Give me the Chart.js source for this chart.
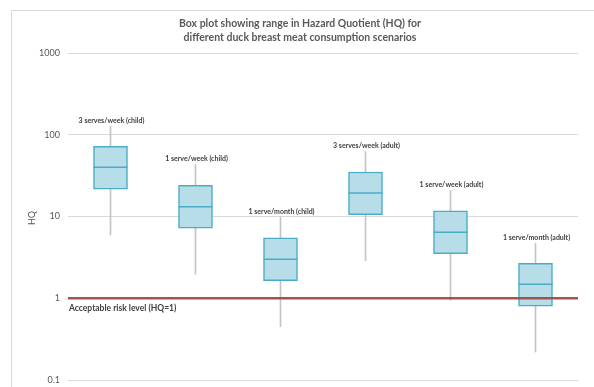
<!DOCTYPE html>
<html>
<head>
<meta charset="utf-8">
<script src="https://cdn.jsdelivr.net/npm/chart.js@4.4.0/dist/chart.umd.min.js"></script>
<style>
  html, body { margin: 0; padding: 0; background: #ffffff; }
  canvas { display: block; }
</style>
</head>
<body>
<canvas id="chart" width="594" height="387"></canvas>
<script>
// Consumption scenarios and the Hazard Quotient spread for each
const categories = [
  '3 serves/week (child)',
  '1 serve/week (child)',
  '1 serve/month (child)',
  '3 serves/week (adult)',
  '1 serve/week (adult)',
  '1 serve/month (adult)'
];
const whiskerMin = [5.95, 1.97, 0.45, 2.88, 0.95, 0.22];
const q1         = [21.6, 7.2, 1.64, 10.5, 3.5, 0.8];
const median     = [40, 13.2, 3.0, 19.4, 6.4, 1.48];
const q3         = [72, 24, 5.5, 35, 11.7, 2.68];
const whiskerMax = [128, 43, 9.8, 62, 20.8, 4.7];

const yTicks      = [0.1, 1, 10, 100, 1000];
const yTickLabels = ['0.1', '1', '10', '100', '1000'];

const riskLevel = 1;
const riskLabel = 'Acceptable risk level (HQ=1)';
const titleLines = [
  'Box plot showing range in Hazard Quotient (HQ) for',
  'different duck breast meat consumption scenarios'
];
const yTitle = 'HQ';

const FONT = 'Lato, "Open Sans", sans-serif';

const overlay = {
  id: 'boxOverlay',
  beforeDraw(chart) {
    const c = chart.ctx;
    c.save();
    c.strokeStyle = '#d9d9d9';
    c.lineWidth = 1;
    c.beginPath();
    c.moveTo(11.5, chart.height);
    c.lineTo(11.5, 10.5);
    c.lineTo(chart.width, 10.5);
    c.stroke();
    c.restore();
  },
  afterDatasetsDraw(chart) {
    const c = chart.ctx;
    const x = chart.scales.x, y = chart.scales.y;
    const area = chart.chartArea;
    const half = 17;
    c.save();
    // median lines
    c.strokeStyle = '#4bacc6';
    c.lineWidth = 1.5;
    median.forEach((m, i) => {
      const cx = x.getPixelForValue(i);
      const py = y.getPixelForValue(m);
      c.beginPath();
      c.moveTo(cx - half, py);
      c.lineTo(cx + half, py);
      c.stroke();
    });
    // acceptable risk level
    const ry = y.getPixelForValue(riskLevel);
    c.strokeStyle = 'rgba(160, 75, 72, 0.95)';
    c.lineWidth = 2.5;
    c.beginPath();
    c.moveTo(area.left, ry);
    c.lineTo(area.right, ry);
    c.stroke();
    c.fillStyle = '#404040';
    c.font = 'bold 8.5px ' + FONT;
    c.textAlign = 'left';
    c.textBaseline = 'middle';
    c.fillText(riskLabel, area.left + 1, ry + 10);
    // scenario names above each box
    c.font = 'bold 7px ' + FONT;
    c.textAlign = 'center';
    categories.forEach((name, i) => {
      const cx = x.getPixelForValue(i);
      const top = y.getPixelForValue(whiskerMax[i]);
      c.fillText(name, cx + 1, top - 5.5);
    });
    c.restore();
  },
  afterDraw(chart) {
    const c = chart.ctx;
    c.save();
    c.fillStyle = '#595959';
    c.font = 'bold 10.5px ' + FONT;
    c.textAlign = 'center';
    c.textBaseline = 'middle';
    c.fillText(titleLines[0], 300, 24);
    c.fillText(titleLines[1], 300, 38);
    c.font = '9px ' + FONT;
    c.translate(32, 218);
    c.rotate(-Math.PI / 2);
    c.fillText(yTitle, 0, 0);
    c.restore();
  }
};

new Chart(document.getElementById('chart'), {
  type: 'bar',
  data: {
    labels: categories,
    datasets: [
      {
        label: 'Interquartile range',
        data: categories.map((_, i) => [q1[i], q3[i]]),
        backgroundColor: '#b7dde8',
        borderColor: '#4bacc6',
        borderWidth: 1.5,
        borderSkipped: false,
        barThickness: 34,
        grouped: false,
        order: 1
      },
      {
        label: 'Range',
        data: categories.map((_, i) => [whiskerMin[i], whiskerMax[i]]),
        backgroundColor: '#c4c4c4',
        borderWidth: 0,
        barThickness: 1,
        grouped: false,
        order: 2
      }
    ]
  },
  options: {
    responsive: false,
    animation: false,
    layout: { padding: { left: 0, right: 16, top: 53, bottom: 7 } },
    plugins: {
      legend: { display: false },
      tooltip: { enabled: false },
      title: { display: false }
    },
    scales: {
      x: { display: false, offset: true },
      y: {
        type: 'logarithmic',
        min: 0.1,
        max: 1000,
        afterBuildTicks: (s) => { s.ticks = yTicks.map(v => ({ value: v })); },
        afterFit: (s) => { s.width = 68; s.paddingTop = 0; s.paddingBottom = 0; },
        grid: { color: '#d9d9d9', lineWidth: 1, drawTicks: false },
        border: { display: false },
        ticks: {
          padding: 8,
          color: '#595959',
          font: { family: FONT, size: 9 },
          callback: (v) => {
            const k = yTicks.findIndex(t => Math.abs(t - v) < 1e-9);
            return k >= 0 ? yTickLabels[k] : '';
          }
        }
      }
    }
  },
  plugins: [overlay]
});
</script>
</body>
</html>
